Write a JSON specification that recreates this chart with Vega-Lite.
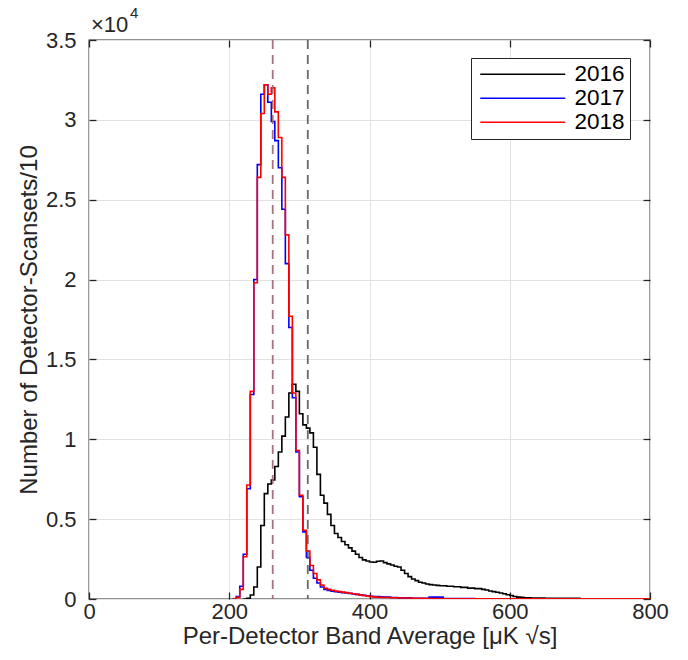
{
  "$schema": "https://vega.github.io/schema/vega-lite/v6.json",
  "width": 561,
  "height": 559,
  "autosize": "none",
  "padding": {"left": 89, "top": 40, "right": 38, "bottom": 61},
  "background": "white",
  "config": {
    "font": "Liberation Sans",
    "view": {"stroke": "#262626", "strokeWidth": 1.3},
    "axis": {
      "labelFont": "Liberation Sans",
      "titleFont": "Liberation Sans",
      "labelFontSize": 22,
      "titleFontSize": 24,
      "titleFontWeight": "normal",
      "labelColor": "#262626",
      "titleColor": "#262626",
      "tickColor": "#262626",
      "tickWidth": 1.3,
      "gridColor": "#e2e2e2",
      "gridWidth": 1,
      "domain": false
    }
  },
  "datasets": {
    "hist": [
      {"year": "2016", "x": 220, "n": 0},
      {"year": "2016", "x": 225, "n": 50},
      {"year": "2016", "x": 230, "n": 250},
      {"year": "2016", "x": 235, "n": 750},
      {"year": "2016", "x": 240, "n": 2000},
      {"year": "2016", "x": 245, "n": 4600},
      {"year": "2016", "x": 250, "n": 6600},
      {"year": "2016", "x": 255, "n": 7200},
      {"year": "2016", "x": 260, "n": 7450},
      {"year": "2016", "x": 265, "n": 8300},
      {"year": "2016", "x": 270, "n": 9200},
      {"year": "2016", "x": 275, "n": 10200},
      {"year": "2016", "x": 280, "n": 11400},
      {"year": "2016", "x": 285, "n": 12900},
      {"year": "2016", "x": 290, "n": 13450},
      {"year": "2016", "x": 295, "n": 13000},
      {"year": "2016", "x": 300, "n": 11600},
      {"year": "2016", "x": 305, "n": 10900},
      {"year": "2016", "x": 310, "n": 10700},
      {"year": "2016", "x": 315, "n": 10400},
      {"year": "2016", "x": 320, "n": 9500},
      {"year": "2016", "x": 325, "n": 7800},
      {"year": "2016", "x": 330, "n": 6500},
      {"year": "2016", "x": 335, "n": 6000},
      {"year": "2016", "x": 340, "n": 5300},
      {"year": "2016", "x": 345, "n": 4600},
      {"year": "2016", "x": 350, "n": 4100},
      {"year": "2016", "x": 355, "n": 3850},
      {"year": "2016", "x": 360, "n": 3600},
      {"year": "2016", "x": 365, "n": 3400},
      {"year": "2016", "x": 370, "n": 3200},
      {"year": "2016", "x": 375, "n": 3000},
      {"year": "2016", "x": 380, "n": 2800},
      {"year": "2016", "x": 385, "n": 2600},
      {"year": "2016", "x": 390, "n": 2450},
      {"year": "2016", "x": 395, "n": 2380},
      {"year": "2016", "x": 400, "n": 2320},
      {"year": "2016", "x": 405, "n": 2300},
      {"year": "2016", "x": 410, "n": 2360},
      {"year": "2016", "x": 415, "n": 2380},
      {"year": "2016", "x": 420, "n": 2280},
      {"year": "2016", "x": 425, "n": 2200},
      {"year": "2016", "x": 430, "n": 2130},
      {"year": "2016", "x": 435, "n": 2050},
      {"year": "2016", "x": 440, "n": 2000},
      {"year": "2016", "x": 445, "n": 1800},
      {"year": "2016", "x": 450, "n": 1600},
      {"year": "2016", "x": 455, "n": 1400},
      {"year": "2016", "x": 460, "n": 1250},
      {"year": "2016", "x": 465, "n": 1150},
      {"year": "2016", "x": 470, "n": 1050},
      {"year": "2016", "x": 475, "n": 1000},
      {"year": "2016", "x": 480, "n": 940},
      {"year": "2016", "x": 485, "n": 900},
      {"year": "2016", "x": 490, "n": 880},
      {"year": "2016", "x": 495, "n": 850},
      {"year": "2016", "x": 500, "n": 830},
      {"year": "2016", "x": 510, "n": 800},
      {"year": "2016", "x": 520, "n": 770},
      {"year": "2016", "x": 530, "n": 730},
      {"year": "2016", "x": 540, "n": 680},
      {"year": "2016", "x": 550, "n": 650},
      {"year": "2016", "x": 560, "n": 600},
      {"year": "2016", "x": 565, "n": 560},
      {"year": "2016", "x": 570, "n": 500},
      {"year": "2016", "x": 575, "n": 460},
      {"year": "2016", "x": 580, "n": 420},
      {"year": "2016", "x": 585, "n": 380},
      {"year": "2016", "x": 590, "n": 330},
      {"year": "2016", "x": 595, "n": 270},
      {"year": "2016", "x": 600, "n": 220},
      {"year": "2016", "x": 605, "n": 160},
      {"year": "2016", "x": 610, "n": 120},
      {"year": "2016", "x": 615, "n": 100},
      {"year": "2016", "x": 620, "n": 80},
      {"year": "2016", "x": 630, "n": 60},
      {"year": "2016", "x": 650, "n": 40},
      {"year": "2016", "x": 700, "n": 20},
      {"year": "2016", "x": 800, "n": 0},

      {"year": "2017", "x": 205, "n": 0},
      {"year": "2017", "x": 210, "n": 150},
      {"year": "2017", "x": 215, "n": 800},
      {"year": "2017", "x": 220, "n": 2800},
      {"year": "2017", "x": 225, "n": 6900},
      {"year": "2017", "x": 230, "n": 12800},
      {"year": "2017", "x": 235, "n": 20000},
      {"year": "2017", "x": 240, "n": 27200},
      {"year": "2017", "x": 245, "n": 31600},
      {"year": "2017", "x": 250, "n": 32200},
      {"year": "2017", "x": 255, "n": 31100},
      {"year": "2017", "x": 260, "n": 29900},
      {"year": "2017", "x": 265, "n": 28700},
      {"year": "2017", "x": 270, "n": 27000},
      {"year": "2017", "x": 275, "n": 24400},
      {"year": "2017", "x": 280, "n": 21000},
      {"year": "2017", "x": 285, "n": 17000},
      {"year": "2017", "x": 290, "n": 12600},
      {"year": "2017", "x": 295, "n": 9200},
      {"year": "2017", "x": 300, "n": 6400},
      {"year": "2017", "x": 305, "n": 4200},
      {"year": "2017", "x": 310, "n": 2600},
      {"year": "2017", "x": 315, "n": 1800},
      {"year": "2017", "x": 320, "n": 1300},
      {"year": "2017", "x": 325, "n": 1000},
      {"year": "2017", "x": 330, "n": 750},
      {"year": "2017", "x": 335, "n": 600},
      {"year": "2017", "x": 340, "n": 530},
      {"year": "2017", "x": 345, "n": 490},
      {"year": "2017", "x": 350, "n": 450},
      {"year": "2017", "x": 355, "n": 420},
      {"year": "2017", "x": 360, "n": 400},
      {"year": "2017", "x": 365, "n": 380},
      {"year": "2017", "x": 370, "n": 350},
      {"year": "2017", "x": 375, "n": 320},
      {"year": "2017", "x": 380, "n": 290},
      {"year": "2017", "x": 385, "n": 260},
      {"year": "2017", "x": 390, "n": 230},
      {"year": "2017", "x": 395, "n": 200},
      {"year": "2017", "x": 400, "n": 170},
      {"year": "2017", "x": 405, "n": 150},
      {"year": "2017", "x": 415, "n": 140},
      {"year": "2017", "x": 420, "n": 120},
      {"year": "2017", "x": 430, "n": 90},
      {"year": "2017", "x": 440, "n": 70},
      {"year": "2017", "x": 460, "n": 50},
      {"year": "2017", "x": 480, "n": 40},
      {"year": "2017", "x": 485, "n": 120},
      {"year": "2017", "x": 505, "n": 30},
      {"year": "2017", "x": 550, "n": 10},
      {"year": "2017", "x": 600, "n": 5},
      {"year": "2017", "x": 800, "n": 0},

      {"year": "2018", "x": 205, "n": 0},
      {"year": "2018", "x": 210, "n": 100},
      {"year": "2018", "x": 215, "n": 600},
      {"year": "2018", "x": 220, "n": 2650},
      {"year": "2018", "x": 225, "n": 7140},
      {"year": "2018", "x": 230, "n": 13000},
      {"year": "2018", "x": 235, "n": 19800},
      {"year": "2018", "x": 240, "n": 26400},
      {"year": "2018", "x": 245, "n": 30400},
      {"year": "2018", "x": 250, "n": 32200},
      {"year": "2018", "x": 255, "n": 31600},
      {"year": "2018", "x": 260, "n": 32000},
      {"year": "2018", "x": 265, "n": 30500},
      {"year": "2018", "x": 270, "n": 28900},
      {"year": "2018", "x": 275, "n": 26400},
      {"year": "2018", "x": 280, "n": 22800},
      {"year": "2018", "x": 285, "n": 17700},
      {"year": "2018", "x": 290, "n": 12900},
      {"year": "2018", "x": 295, "n": 9300},
      {"year": "2018", "x": 300, "n": 6500},
      {"year": "2018", "x": 305, "n": 4300},
      {"year": "2018", "x": 310, "n": 3000},
      {"year": "2018", "x": 315, "n": 2100},
      {"year": "2018", "x": 320, "n": 1600},
      {"year": "2018", "x": 325, "n": 1200},
      {"year": "2018", "x": 330, "n": 880},
      {"year": "2018", "x": 335, "n": 670},
      {"year": "2018", "x": 340, "n": 600},
      {"year": "2018", "x": 345, "n": 550},
      {"year": "2018", "x": 350, "n": 500},
      {"year": "2018", "x": 355, "n": 460},
      {"year": "2018", "x": 360, "n": 430},
      {"year": "2018", "x": 365, "n": 400},
      {"year": "2018", "x": 370, "n": 360},
      {"year": "2018", "x": 375, "n": 330},
      {"year": "2018", "x": 380, "n": 290},
      {"year": "2018", "x": 385, "n": 250},
      {"year": "2018", "x": 390, "n": 220},
      {"year": "2018", "x": 395, "n": 180},
      {"year": "2018", "x": 400, "n": 150},
      {"year": "2018", "x": 405, "n": 130},
      {"year": "2018", "x": 410, "n": 110},
      {"year": "2018", "x": 415, "n": 100},
      {"year": "2018", "x": 420, "n": 90},
      {"year": "2018", "x": 430, "n": 80},
      {"year": "2018", "x": 440, "n": 60},
      {"year": "2018", "x": 460, "n": 40},
      {"year": "2018", "x": 480, "n": 30},
      {"year": "2018", "x": 500, "n": 20},
      {"year": "2018", "x": 550, "n": 10},
      {"year": "2018", "x": 600, "n": 5},
      {"year": "2018", "x": 800, "n": 0}
    ],
    "refs": [
      {"x": 262, "group": "2017/2018"},
      {"x": 312, "group": "2016"}
    ],
    "note": [
      {"base": "×10", "exp": "4", "x": 0, "n": 35000}
    ]
  },
  "layer": [
    {
      "data": {"name": "hist"},
      "mark": {"type": "line", "interpolate": "step-after", "strokeWidth": 1.6, "clip": true},
      "encoding": {
        "x": {
          "field": "x", "type": "quantitative",
          "scale": {"domain": [0, 800], "nice": false, "zero": false},
          "title": "Per-Detector Band Average [μK √s]",
          "axis": {
            "orient": "bottom",
            "values": [0, 200, 400, 600, 800],
            "grid": true,
            "tickSize": -7,
            "labelPadding": 9,
            "labelFlush": false,
            "titlePadding": 2
          }
        },
        "y": {
          "field": "n", "type": "quantitative",
          "scale": {"domain": [0, 35000], "nice": false},
          "title": "Number of Detector-Scansets/10",
          "axis": {
            "orient": "left",
            "values": [0, 5000, 10000, 15000, 20000, 25000, 30000, 35000],
            "labelExpr": "datum.value / 10000",
            "grid": true,
            "tickSize": -7,
            "labelPadding": 20,
            "titlePadding": 4
          }
        },
        "color": {
          "field": "year", "type": "nominal",
          "scale": {"domain": ["2016", "2017", "2018"], "range": ["#000000", "#0000ff", "#ff0000"]},
          "legend": {
            "orient": "none",
            "legendX": 382,
            "legendY": 18,
            "title": null,
            "symbolType": "M-0.7,0H7.8",
            "symbolSize": 400,
            "symbolStrokeWidth": 1.6,
            "symbolFillColor": "transparent",
            "labelFontSize": 22.5,
            "labelFont": "Liberation Sans",
            "labelColor": "#000000",
            "strokeColor": "#262626",
            "fillColor": "white",
            "padding": 5,
            "rowPadding": 1,
            "labelOffset": 76
          }
        }
      }
    },
    {
      "data": {"name": "refs"},
      "mark": {"type": "rule", "strokeDash": [9, 6], "strokeWidth": 1.8, "opacity": 0.9},
      "encoding": {
        "x": {"field": "x", "type": "quantitative", "axis": null},
        "stroke": {
          "condition": {"test": "datum.x < 300", "value": "#a0646f"},
          "value": "#5a5a5a"
        }
      }
    },
    {
      "data": {"name": "note"},
      "mark": {"type": "text", "align": "left", "baseline": "alphabetic", "dx": 2, "dy": -8, "fontSize": 22, "font": "Liberation Sans", "color": "#262626"},
      "encoding": {
        "x": {"field": "x", "type": "quantitative", "axis": null},
        "y": {"field": "n", "type": "quantitative", "axis": null},
        "text": {"field": "base"}
      }
    },
    {
      "data": {"name": "note"},
      "mark": {"type": "text", "align": "left", "baseline": "alphabetic", "dx": 41, "dy": -22, "fontSize": 15, "font": "Liberation Sans", "color": "#262626"},
      "encoding": {
        "x": {"field": "x", "type": "quantitative", "axis": null},
        "y": {"field": "n", "type": "quantitative", "axis": null},
        "text": {"field": "exp"}
      }
    },
    {
      "data": {"name": "hist"},
      "mark": {"type": "point", "opacity": 0},
      "encoding": {
        "x": {
          "field": "x", "type": "quantitative",
          "axis": {"orient": "top", "values": [0, 200, 400, 600, 800], "labels": false, "grid": false, "tickSize": -7, "title": null}
        },
        "y": {
          "field": "n", "type": "quantitative",
          "axis": {"orient": "right", "values": [0, 5000, 10000, 15000, 20000, 25000, 30000, 35000], "labels": false, "grid": false, "tickSize": -7, "title": null}
        }
      }
    }
  ],
  "resolve": {"axis": {"x": "independent", "y": "independent"}}
}
